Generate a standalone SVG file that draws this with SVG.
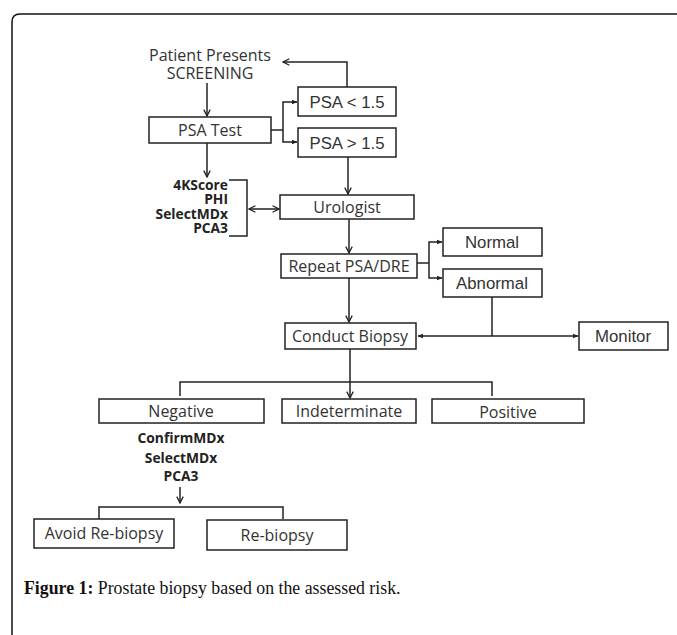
<svg xmlns="http://www.w3.org/2000/svg" width="677" height="635" viewBox="0 0 677 635">
<defs>
<marker id="ah" viewBox="0 0 10 10" refX="9" refY="5" markerWidth="8" markerHeight="8" markerUnits="userSpaceOnUse" orient="auto-start-reverse">
<path d="M1,1 L9,5 L1,9" fill="none" stroke="#222" stroke-width="1.6"/>
</marker>
<marker id="sm" viewBox="0 0 10 10" refX="9" refY="5" markerWidth="6" markerHeight="6" markerUnits="userSpaceOnUse" orient="auto-start-reverse">
<path d="M0,1 L10,5 L0,9 Z" fill="#222"/>
</marker>
<style>
.box{fill:#fff;stroke:#222;stroke-width:1.5}
.t{font-family:"Open Sans","Liberation Sans",sans-serif;font-size:16px;fill:#333;text-anchor:middle}
.a{font-family:"Liberation Sans",Arial,sans-serif;font-size:16.8px;fill:#333;text-anchor:middle}
.b{font-family:"Open Sans","Liberation Sans",sans-serif;font-size:13.8px;font-weight:bold;fill:#222}
.c{fill:none;stroke:#222;stroke-width:1.5}
</style>
</defs>
<rect width="677" height="635" fill="#fff"/>
<path d="M12,635 V22 Q12,14 20,14 H677" fill="none" stroke="#111" stroke-width="1.5"/>

<g id="connectors">
<path class="c" d="M207,83 V116" marker-end="url(#ah)"/>
<path class="c" d="M347,87 V62 H283" marker-end="url(#ah)"/>
<path class="c" d="M271,130 H283"/>
<path class="c" d="M283,130 V102 H297" marker-end="url(#sm)"/>
<path class="c" d="M283,130 V142 H297" marker-end="url(#sm)"/>
<path class="c" d="M207,143 V177" marker-end="url(#ah)"/>
<path class="c" d="M348,157 V194" marker-end="url(#ah)"/>
<path class="c" d="M229,180 H247 V236 H229"/>
<path class="c" d="M249,209 H279" marker-start="url(#ah)" marker-end="url(#ah)"/>
<path class="c" d="M349,219 V253" marker-end="url(#ah)"/>
<path class="c" d="M417,263 H429"/>
<path class="c" d="M429,263 V242 H442" marker-end="url(#sm)"/>
<path class="c" d="M429,263 V278 H442" marker-end="url(#sm)"/>
<path class="c" d="M349,278 V322" marker-end="url(#ah)"/>
<path class="c" d="M492,297 V336"/>
<path class="c" d="M418,336 H578" marker-start="url(#sm)" marker-end="url(#sm)"/>
<path class="c" d="M350,349 V398" marker-end="url(#ah)"/>
<path class="c" d="M180,396 V382 H492 V396"/>
<path class="c" d="M180,487 V503" marker-end="url(#ah)"/>
<path class="c" d="M99,519 V507 H283 V519"/>
</g>

<g id="patient">
<text class="t" x="210" y="61">Patient Presents</text>
<text class="t" x="210" y="79">SCREENING</text>
</g>
<g id="psa-test"><rect class="box" x="149" y="117" width="122" height="26"/><text class="t" x="210" y="136">PSA Test</text></g>
<g id="psa-low"><rect class="box" x="298" y="87" width="98" height="29"/><text class="a" x="347" y="108">PSA &lt; 1.5</text></g>
<g id="psa-high"><rect class="box" x="298" y="128" width="98" height="29"/><text class="a" x="347" y="149">PSA &gt; 1.5</text></g>
<g id="biomarkers1">
<text class="b" x="228" y="190" text-anchor="end">4KScore</text>
<text class="b" x="228" y="204.3" text-anchor="end">PHI</text>
<text class="b" x="228" y="218.6" text-anchor="end">SelectMDx</text>
<text class="b" x="228" y="233" text-anchor="end">PCA3</text>
</g>
<g id="urologist"><rect class="box" x="280" y="195" width="134" height="24"/><text class="t" x="347" y="213">Urologist</text></g>
<g id="repeat"><rect class="box" x="281" y="254" width="136" height="24"/><text class="t" x="349" y="272">Repeat PSA/DRE</text></g>
<g id="normal"><rect class="box" x="443" y="228" width="99" height="28"/><text class="a" x="492" y="248">Normal</text></g>
<g id="abnormal"><rect class="box" x="443" y="269" width="99" height="28"/><text class="a" x="492" y="289">Abnormal</text></g>
<g id="biopsy"><rect class="box" x="285" y="323" width="131" height="26"/><text class="t" x="350" y="342">Conduct Biopsy</text></g>
<g id="monitor"><rect class="box" x="579" y="322" width="89" height="28"/><text class="a" x="623" y="342">Monitor</text></g>
<g id="negative"><rect class="box" x="99" y="399" width="165" height="24"/><text class="t" x="181" y="417">Negative</text></g>
<g id="indeterminate"><rect class="box" x="282" y="399" width="134" height="24"/><text class="t" x="349" y="417">Indeterminate</text></g>
<g id="positive"><rect class="box" x="432" y="399" width="152" height="24"/><text class="t" x="508" y="418">Positive</text></g>
<g id="biomarkers2">
<text class="b" x="181" y="443" text-anchor="middle" font-size="14.4">ConfirmMDx</text>
<text class="b" x="181" y="463" text-anchor="middle" font-size="14.4">SelectMDx</text>
<text class="b" x="181" y="481" text-anchor="middle" font-size="14.4">PCA3</text>
</g>
<g id="avoid"><rect class="box" x="34" y="519" width="140" height="29"/><text class="t" x="104" y="539">Avoid Re-biopsy</text></g>
<g id="rebiopsy"><rect class="box" x="207" y="520" width="140" height="30"/><text class="t" x="277" y="541">Re-biopsy</text></g>

<text x="24" y="594" font-family="'Liberation Serif','Times New Roman',serif" font-size="17.8" fill="#111"><tspan font-weight="bold">Figure 1:</tspan> Prostate biopsy based on the assessed risk.</text>
</svg>
